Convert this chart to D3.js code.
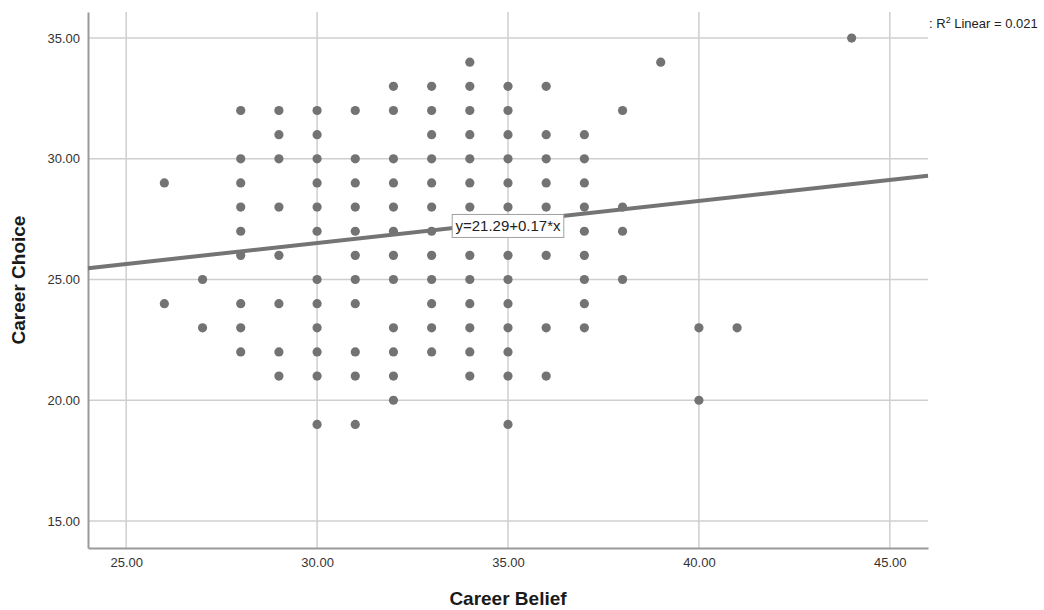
<!DOCTYPE html>
<html>
<head>
<meta charset="utf-8">
<script src="https://cdn.jsdelivr.net/npm/d3@7"></script>
<style>
  body { margin: 0; background: #fff; }
  svg { display: block; font-family: "Liberation Sans", Arial, sans-serif; }
</style>
</head>
<body>
<svg width="1044" height="610"></svg>
<script>
// Career Belief values (x) and the Career Choice values (y) seen at each one
var beliefLevels = [26, 27, 28, 29, 30, 31, 32, 33, 34, 35, 36, 37, 38, 39, 40, 41, 44];
var choiceAtBelief = [
    [29, 24],
    [25, 23],
    [32, 30, 29, 28, 27, 26, 24, 23, 22],
    [32, 31, 30, 28, 26, 24, 22, 21],
    [32, 31, 30, 29, 28, 27, 25, 24, 23, 22, 21, 19],
    [32, 30, 29, 28, 27, 26, 25, 24, 22, 21, 19],
    [33, 32, 30, 29, 28, 27, 26, 25, 23, 22, 21, 20],
    [33, 32, 31, 30, 29, 28, 27, 26, 25, 24, 23, 22],
    [34, 33, 32, 31, 30, 29, 28, 27, 26, 25, 24, 23, 22, 21],
    [33, 32, 31, 30, 29, 28, 27, 26, 25, 24, 23, 22, 21, 19],
    [33, 31, 30, 29, 28, 26, 23, 21],
    [31, 30, 29, 28, 27, 26, 25, 24, 23],
    [32, 28, 27, 25],
    [34],
    [23, 20],
    [23],
    [35]
];

var xTicks = [25, 30, 35, 40, 45];
var yTicks = [15, 20, 25, 30, 35];

// fit line (label shows it rounded to 2 decimals)
var intercept = 21.294;
var slope = 0.174;
var rSquared = 0.021;

var points = [];
for (let i = 0; i < beliefLevels.length; i++) {
    for (let j = 0; j < choiceAtBelief[i].length; j++) {
        points.push({ belief: beliefLevels[i], choice: choiceAtBelief[i][j] });
    }
}

var svg = d3.select("svg");
var plotLeft = 88, plotRight = 928, plotTop = 12, plotBottom = 548;

var x = d3.scaleLinear().domain([24, 46]).range([plotLeft, plotRight]);
var y = d3.scaleLinear().domain([13.88, 36.08]).range([plotBottom, plotTop]);

// grid lines
svg.append("g")
    .selectAll("line")
    .data(xTicks)
    .enter()
    .append("line")
    .attr("x1", d => x(d)).attr("x2", d => x(d))
    .attr("y1", plotTop).attr("y2", plotBottom)
    .attr("stroke", "#cfcfcf")
    .attr("stroke-width", 1.5);

svg.append("g")
    .selectAll("line")
    .data(yTicks)
    .enter()
    .append("line")
    .attr("x1", plotLeft).attr("x2", plotRight)
    .attr("y1", d => y(d)).attr("y2", d => y(d))
    .attr("stroke", "#cfcfcf")
    .attr("stroke-width", 1.5);

// axes, no tick marks, labels only
var xAxis = svg.append("g")
    .attr("transform", "translate(0," + plotBottom + ")")
    .call(d3.axisBottom(x).tickValues(xTicks).tickSize(0).tickPadding(10)
        .tickFormat(d => d.toFixed(2)));

var yAxis = svg.append("g")
    .attr("transform", "translate(" + plotLeft + ",0)")
    .call(d3.axisLeft(y).tickValues(yTicks).tickSize(0).tickPadding(8)
        .tickFormat(d => d.toFixed(2)));

[xAxis, yAxis].forEach(function(a) {
    a.select(".domain").attr("stroke", "#9a9a9a").attr("stroke-width", 2);
    a.selectAll("text")
        .attr("font-family", "'Liberation Sans', Arial, sans-serif")
        .attr("font-size", 13)
        .attr("fill", "#333");
});

// points
svg.append("g")
    .selectAll("circle")
    .data(points)
    .enter()
    .append("circle")
    .attr("cx", d => x(d.belief))
    .attr("cy", d => y(d.choice))
    .attr("r", 4.6)
    .attr("fill", "#737373");

// regression line across the whole x range
var xd = x.domain();
svg.append("line")
    .attr("x1", x(xd[0])).attr("y1", y(intercept + slope * xd[0]))
    .attr("x2", x(xd[1])).attr("y2", y(intercept + slope * xd[1]))
    .attr("stroke", "#747474")
    .attr("stroke-width", 4);

// equation label near the middle of the line
var midX = (xd[0] + xd[1]) / 2;
var lbl = svg.append("g")
    .attr("transform", "translate(" + x(midX) + "," + (y(intercept + slope * midX) + 4) + ")");
var lblRect = lbl.append("rect")
    .attr("fill", "#fff")
    .attr("stroke", "#a0a0a0")
    .attr("stroke-width", 1);
var lblText = lbl.append("text")
    .attr("text-anchor", "middle")
    .attr("dy", "0.36em")
    .attr("font-size", 15)
    .attr("fill", "#222")
    .text("y=" + intercept.toFixed(2) + "+" + slope.toFixed(2) + "*x");
var bb = lblText.node().getBBox();
lblRect.attr("x", -bb.width / 2 - 3).attr("y", -11.5)
    .attr("width", bb.width + 6).attr("height", 23);

// R squared note
var r2 = svg.append("text")
    .attr("x", plotRight + 1)
    .attr("y", 28)
    .attr("font-size", 13)
    .attr("fill", "#222");
r2.append("tspan").text(": R");
r2.append("tspan").attr("font-size", 9).attr("dy", -5).text("2");
r2.append("tspan").attr("dy", 5).text(" Linear = " + rSquared.toFixed(3));

// axis titles
svg.append("text")
    .attr("x", (plotLeft + plotRight) / 2)
    .attr("y", 605)
    .attr("text-anchor", "middle")
    .attr("font-size", 19)
    .attr("font-weight", "bold")
    .attr("fill", "#1a1a1a")
    .text("Career Belief");

svg.append("text")
    .attr("transform", "translate(25," + (plotTop + plotBottom) / 2 + ") rotate(-90)")
    .attr("text-anchor", "middle")
    .attr("font-size", 19)
    .attr("font-weight", "bold")
    .attr("fill", "#1a1a1a")
    .text("Career Choice");
</script>
</body>
</html>
